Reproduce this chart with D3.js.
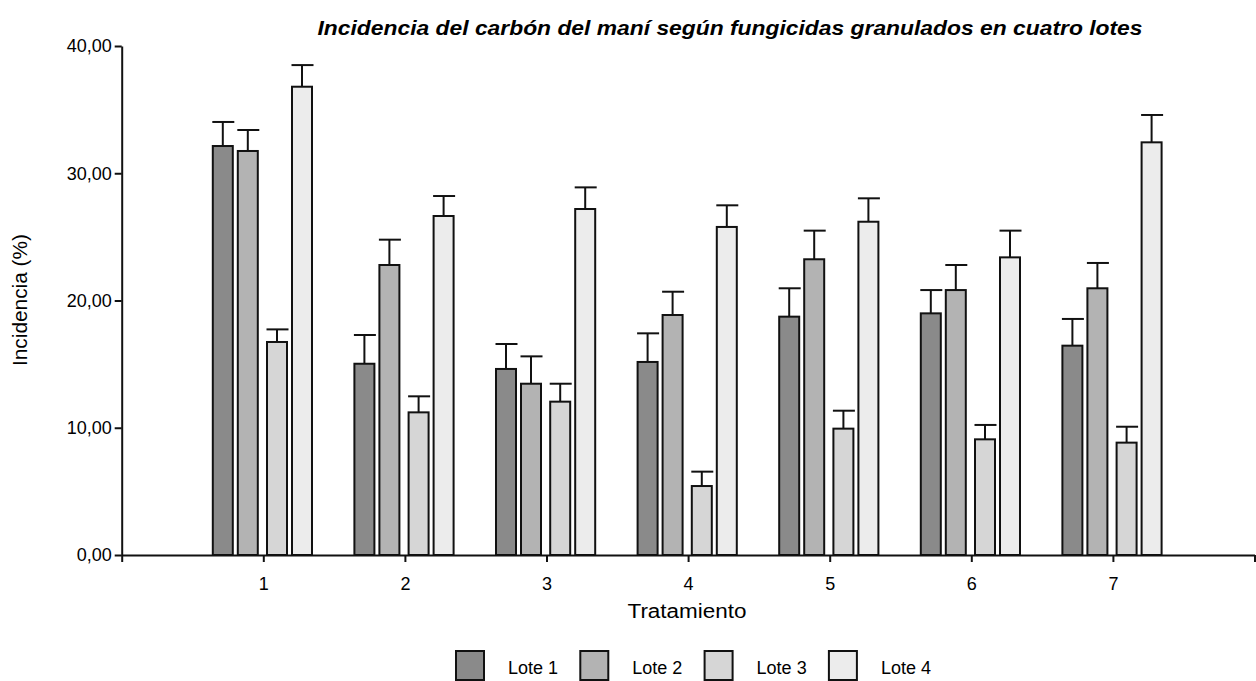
<!DOCTYPE html>
<html>
<head>
<meta charset="utf-8">
<script src="https://cdn.jsdelivr.net/npm/d3@7"></script>
<style>
  html, body { margin: 0; padding: 0; background: #fff; }
  svg { display: block; }
  text { font-family: "Liberation Sans", Arial, sans-serif; fill: #000; }
</style>
</head>
<body>
<svg id="chart" width="1256" height="681"></svg>
<script>
// ---- data ----
const treatments = [1, 2, 3, 4, 5, 6, 7];
const series = ["Lote 1", "Lote 2", "Lote 3", "Lote 4"];
const lote1 = [32.14, 15.03, 14.62, 15.17, 18.73, 18.99, 16.45];
const lote2 = [31.75, 22.79, 13.46, 18.86, 23.24, 20.82, 20.96];
const lote3 = [16.74, 11.21, 12.05, 5.42, 9.93, 9.09, 8.83];
const lote4 = [36.80, 26.64, 27.19, 25.78, 26.19, 23.39, 32.43];
const err1 = [34.03, 17.29, 16.58, 17.42, 20.96, 20.82, 18.55];
const err2 = [33.40, 24.78, 15.61, 20.69, 25.49, 22.79, 22.95];
const err3 = [17.73, 12.47, 13.46, 6.55, 11.34, 10.22, 10.08];
const err4 = [38.50, 28.21, 28.89, 27.48, 28.03, 25.49, 34.58];
const yTicks = [0, 10, 20, 30, 40];
const title = "Incidencia del carbón del maní según fungicidas granulados en cuatro lotes";
const xTitle = "Tratamiento";
const yTitle = "Incidencia (%)";

const values = [lote1, lote2, lote3, lote4];
const errTops = [err1, err2, err3, err4];
const colors = ["#8a8a8a", "#b3b3b3", "#d6d6d6", "#ececec"];

// ---- layout ----
const svg = d3.select("#chart");
const x = d3.scaleLinear().domain([0, 8]).range([121.7, 1254.5]);
const y = d3.scaleLinear().domain([0, 40]).range([555, 46]);
const barW = 20;
const offsets = [-50.5, -25.5, 3.7, 28.7];
const fmt = v => d3.format(".2f")(v).replace(".", ",");

const data = [];
series.forEach((s, si) => {
  treatments.forEach((t, ti) => {
    data.push({ s: si, t: t, v: values[si][ti], e: errTops[si][ti] });
  });
});

const g = svg.append("g");

g.selectAll("line.err").data(data).enter().append("line")
  .attr("x1", d => x(d.t) + offsets[d.s] + barW / 2)
  .attr("x2", d => x(d.t) + offsets[d.s] + barW / 2)
  .attr("y1", d => y(d.v))
  .attr("y2", d => y(d.e))
  .attr("stroke", "#111").attr("stroke-width", 2);
g.selectAll("line.cap").data(data).enter().append("line")
  .attr("x1", d => x(d.t) + offsets[d.s] - 0.5)
  .attr("x2", d => x(d.t) + offsets[d.s] + barW + 1.5)
  .attr("y1", d => y(d.e))
  .attr("y2", d => y(d.e))
  .attr("stroke", "#111").attr("stroke-width", 2);

g.selectAll("rect.bar").data(data).enter().append("rect")
  .attr("x", d => x(d.t) + offsets[d.s])
  .attr("y", d => y(d.v))
  .attr("width", barW)
  .attr("height", d => y(0) - y(d.v))
  .attr("fill", d => colors[d.s])
  .attr("stroke", "#111").attr("stroke-width", 2);

// axes
const xAxis = d3.axisBottom(x)
  .tickValues([0, 1, 2, 3, 4, 5, 6, 7, 8])
  .tickFormat(d => (d >= 1 && d <= 7) ? String(d) : "")
  .tickSize(7).tickSizeOuter(0).tickPadding(15);
const gx = svg.append("g").attr("transform", `translate(0,${y(0)})`).call(xAxis);
gx.select(".domain").attr("stroke", "#111").attr("stroke-width", 2);
gx.selectAll(".tick line").attr("stroke", "#111").attr("stroke-width", 2);
gx.selectAll(".tick text").attr("font-size", 18).attr("font-family", "Liberation Sans, Arial, sans-serif").attr("fill", "#000");

const yAxis = d3.axisLeft(y).tickValues(yTicks).tickFormat(fmt)
  .tickSize(7).tickSizeOuter(0).tickPadding(3);
const gy = svg.append("g").attr("transform", `translate(${x(0)},0)`).call(yAxis);
gy.select(".domain").attr("stroke", "#111").attr("stroke-width", 2);
gy.selectAll(".tick line").attr("stroke", "#111").attr("stroke-width", 2);
gy.selectAll(".tick text").attr("font-size", 18).attr("font-family", "Liberation Sans, Arial, sans-serif").attr("fill", "#000");

// titles
svg.append("text").attr("x", 730).attr("y", 35)
  .attr("text-anchor", "middle").attr("font-size", 20)
  .attr("font-weight", "bold").attr("font-style", "italic")
  .attr("textLength", 825).attr("lengthAdjust", "spacingAndGlyphs")
  .text(title);
svg.append("text").attr("x", 687).attr("y", 618)
  .attr("text-anchor", "middle").attr("font-size", 20)
  .attr("textLength", 119).attr("lengthAdjust", "spacingAndGlyphs")
  .text(xTitle);
svg.append("text").attr("transform", "translate(27,300) rotate(-90)")
  .attr("text-anchor", "middle").attr("font-size", 20)
  .attr("textLength", 132).attr("lengthAdjust", "spacingAndGlyphs")
  .text(yTitle);

// legend
const legX0 = 456, legStep = 124.3;
const leg = svg.append("g");
series.forEach((s, i) => {
  const lx = legX0 + i * legStep;
  leg.append("rect").attr("x", lx).attr("y", 651).attr("width", 28).attr("height", 29)
    .attr("fill", colors[i]).attr("stroke", "#111").attr("stroke-width", 2);
  leg.append("text").attr("x", lx + 52).attr("y", 674).attr("font-size", 18).text(s);
});
</script>
</body>
</html>
